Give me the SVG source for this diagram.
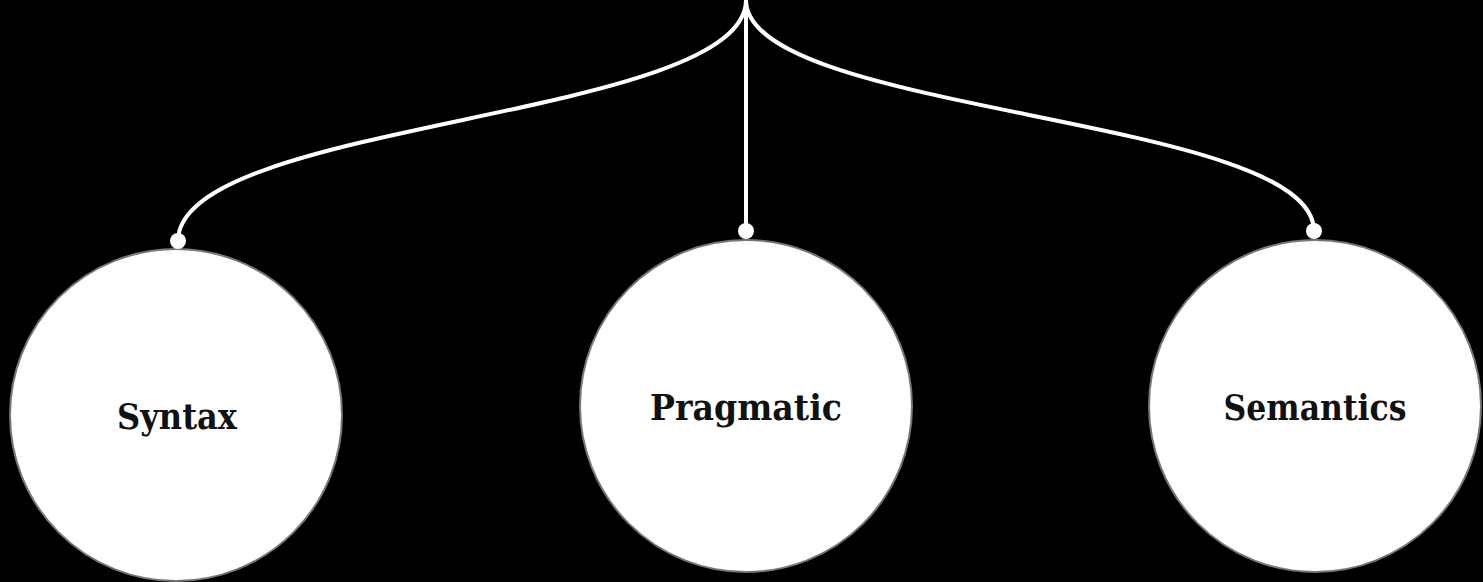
<svg xmlns="http://www.w3.org/2000/svg" width="1483" height="582" viewBox="0 0 1483 582">
<style>
.bg{fill:#000}
.edge{fill:none;stroke:#fff;stroke-width:4}
.dot{fill:#fff}
.node circle{fill:#fff;stroke:#777;stroke-width:2}
.node text{font-family:"DejaVu Serif","Liberation Serif",serif;font-weight:bold;font-size:35px;fill:#111;text-anchor:middle}
</style>
<rect class="bg" x="0" y="0" width="1483" height="582"/>
<g id="connectors">
<path class="edge" d="M746,0 C746,120 178,120 178,241"/>
<path class="edge" d="M746,0 L746,231"/>
<path class="edge" d="M746,0 C746,115 1314,115 1314,231"/>
</g>
<g id="node-syntax" class="node">
<circle cx="176" cy="415" r="166"/>
<text x="177" y="429" textLength="120" lengthAdjust="spacingAndGlyphs">Syntax</text>
</g>
<g id="node-pragmatic" class="node">
<circle cx="746" cy="406" r="166"/>
<text x="746" y="420" textLength="192" lengthAdjust="spacingAndGlyphs">Pragmatic</text>
</g>
<g id="node-semantics" class="node">
<circle cx="1315" cy="406" r="166"/>
<text x="1315" y="420" textLength="183" lengthAdjust="spacingAndGlyphs">Semantics</text>
</g>
<g id="dots">
<circle class="dot" cx="178" cy="241" r="8"/>
<circle class="dot" cx="746" cy="231" r="8"/>
<circle class="dot" cx="1314" cy="231" r="8"/>
</g>
</svg>
